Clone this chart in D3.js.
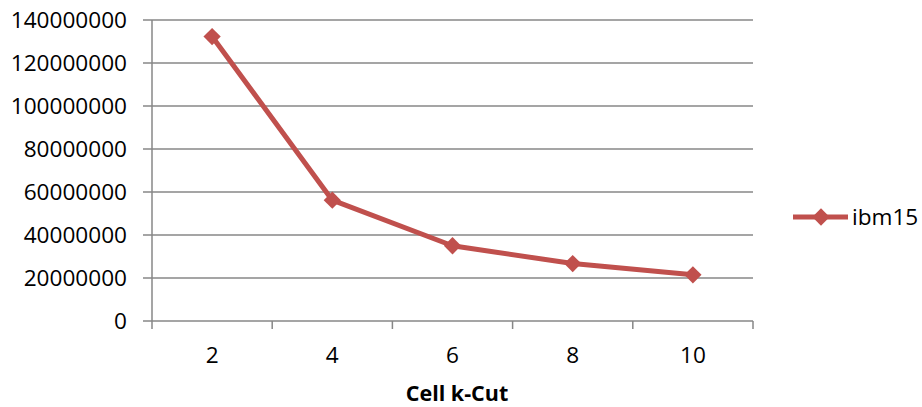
<!DOCTYPE html>
<html><head><meta charset="utf-8">
<script src="https://cdn.jsdelivr.net/npm/d3@7"></script>
<style>body{margin:0;background:#fff}svg{display:block}text{font-family:"Open Sans",sans-serif}</style>
</head><body><svg id="c" width="922" height="407"></svg>
<script>
const categories = ["2","4","6","8","10"];
const ibm15 = [132300000, 56200000, 35000000, 26700000, 21500000];
const yTicks = [0,20000000,40000000,60000000,80000000,100000000,120000000,140000000];
const seriesName = "ibm15";
const xTitle = "Cell k-Cut";

const svg = d3.select("#c");
const L=152, R=753, T=20, B=321;
const x = d3.scaleBand().domain(categories).range([L,R]);
const y = d3.scaleLinear().domain([0,140000000]).range([B,T]);
const color="#C0504D", grid="#878787";

svg.append("g").selectAll("line").data(yTicks).join("line")
  .attr("x1",L-9).attr("x2",R).attr("y1",d=>y(d)).attr("y2",d=>y(d))
  .attr("stroke",grid).attr("stroke-width",1.5);
svg.append("line").attr("x1",L).attr("x2",L).attr("y1",T).attr("y2",B).attr("stroke",grid).attr("stroke-width",1.5);
const xt = categories.map(c=>x(c)).concat([R]);
svg.append("g").selectAll("line").data(xt).join("line")
  .attr("x1",d=>d).attr("x2",d=>d).attr("y1",B).attr("y2",B+8).attr("stroke",grid).attr("stroke-width",1.5);

svg.append("g").selectAll("text").data(yTicks).join("text")
  .attr("x",127).attr("y",d=>y(d)).attr("dy","0.36em").attr("text-anchor","end")
  .attr("font-size",22.6).attr("fill","#000").text(d=>d3.format("d")(d));
svg.append("g").selectAll("text").data(categories).join("text")
  .attr("x",d=>x(d)+x.bandwidth()/2).attr("y",355).attr("dy","0.36em").attr("text-anchor","middle")
  .attr("font-size",22.6).attr("fill","#000").text(d=>d);
svg.append("text").attr("x",457).attr("y",401).attr("text-anchor","middle")
  .attr("font-size",21.5).attr("font-weight","bold").attr("fill","#000").text(xTitle);

const line = d3.line().x((d,i)=>x(categories[i])+x.bandwidth()/2).y(d=>y(d));
svg.append("path").datum(ibm15).attr("d",line).attr("fill","none").attr("stroke",color)
  .attr("stroke-width",5).attr("stroke-linejoin","round");
const diamond = d3.symbol().type(d3.symbolDiamond2).size(190);
svg.append("g").selectAll("path").data(ibm15).join("path")
  .attr("transform",(d,i)=>`translate(${x(categories[i])+x.bandwidth()/2},${y(d)})`)
  .attr("d",diamond).attr("fill",color);

const lg = svg.append("g");
lg.append("line").attr("x1",793).attr("x2",848).attr("y1",217).attr("y2",217).attr("stroke",color).attr("stroke-width",5);
lg.append("path").attr("transform","translate(821,217)").attr("d",diamond).attr("fill",color);
lg.append("text").attr("x",852).attr("y",217).attr("dy","0.36em").attr("font-size",22.6).attr("fill","#000").text(seriesName);
</script></body></html>
